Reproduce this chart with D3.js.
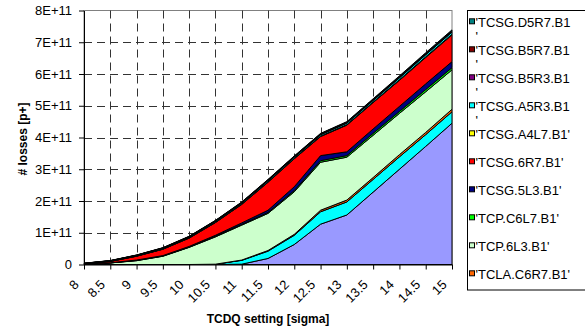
<!DOCTYPE html>
<html>
<head>
<meta charset="utf-8">
<script src="https://cdn.jsdelivr.net/npm/d3@7"></script>
<style>
  body { margin: 0; background: #fff; }
  svg { font-family: Arial, "Liberation Sans", sans-serif; display: block; }
</style>
</head>
<body>
<svg id="chart"></svg>
<script>
// x categories: TCDQ setting in sigma
const settings = [8, 8.5, 9, 9.5, 10, 10.5, 11, 11.5, 12, 12.5, 13, 13.5, 14, 14.5, 15]
// y tick labels (values in units of 1E+11)
const yTicks = [0, 1, 2, 3, 4, 5, 6, 7, 8]
const yTickLabels = ["0", "1E+11", "2E+11", "3E+11", "4E+11", "5E+11", "6E+11", "7E+11", "8E+11"]

// losses per collimator, units of 1E+11 p+ (stack order bottom -> top)
const tcdqLosses = [0, 0, 0, 0, 0, 0, 0.01, 0.19, 0.63, 1.27, 1.56, 2.28, 3.0, 3.72, 4.45]
const tclaB6R7 = [0, 0, 0, 0, 0, 0.01, 0.12, 0.23, 0.29, 0.39, 0.41, 0.40, 0.39, 0.37, 0.36]
const tclaC6R7 = [0, 0, 0, 0, 0, 0, 0.01, 0.02, 0.03, 0.05, 0.06, 0.06, 0.07, 0.07, 0.08]
const tcp6L3 = [0.01, 0.05, 0.12, 0.26, 0.54, 0.86, 1.10, 1.17, 1.34, 1.51, 1.35, 1.33, 1.30, 1.28, 1.24]
const tcpC6L7 = [0, 0, 0.01, 0.01, 0.01, 0.02, 0.02, 0.03, 0.04, 0.05, 0.05, 0.06, 0.06, 0.07, 0.07]
const tcsg5L3 = [0, 0.005, 0.01, 0.01, 0.02, 0.03, 0.05, 0.07, 0.12, 0.16, 0.12, 0.14, 0.16, 0.18, 0.19]
const tcsg6R7 = [0.01, 0.04, 0.12, 0.2, 0.26, 0.4, 0.58, 0.88, 0.88, 0.6, 0.84, 0.83, 0.82, 0.83, 0.84]
const tcsgA4L7 = [0.003, 0.004, 0.006, 0.007, 0.009, 0.01, 0.012, 0.013, 0.013, 0.015, 0.016, 0.018, 0.021, 0.022, 0.024]
const tcsgA5R3 = [0.008, 0.014, 0.016, 0.022, 0.024, 0.03, 0.032, 0.038, 0.038, 0.04, 0.046, 0.048, 0.056, 0.062, 0.064]
const tcsgB5R3 = [0.003, 0.004, 0.006, 0.007, 0.009, 0.01, 0.012, 0.013, 0.013, 0.015, 0.016, 0.018, 0.021, 0.022, 0.024]
const tcsgB5R7 = [0.003, 0.004, 0.006, 0.007, 0.009, 0.01, 0.012, 0.013, 0.013, 0.015, 0.016, 0.018, 0.021, 0.022, 0.024]
const tcsgD5R7 = [0.003, 0.004, 0.006, 0.007, 0.009, 0.01, 0.012, 0.013, 0.013, 0.015, 0.016, 0.018, 0.021, 0.022, 0.024]

const seriesNames = [
  "'TCDQ.4R6.B1'", "'TCLA.B6R7.B1'", "'TCLA.C6R7.B1'", "'TCP.6L3.B1'", "'TCP.C6L7.B1'", "'TCSG.5L3.B1'",
  "'TCSG.6R7.B1'", "'TCSG.A4L7.B1'", "'TCSG.A5R3.B1'", "'TCSG.B5R3.B1'", "'TCSG.B5R7.B1'", "'TCSG.D5R7.B1'"
]
const seriesValues = [
  tcdqLosses, tclaB6R7, tclaC6R7, tcp6L3, tcpC6L7, tcsg5L3,
  tcsg6R7, tcsgA4L7, tcsgA5R3, tcsgB5R3, tcsgB5R7, tcsgD5R7
]
const seriesColors = [
  "#9999FF", "#00FFFF", "#FF6600", "#CCFFCC", "#00FF00", "#000080",
  "#FF0000", "#FFFF00", "#00FFFF", "#800080", "#800000", "#008080"
]

const dims = { width: 585, height: 327, left: 84, right: 452, top: 10.5, bottom: 264.5 }

const svg = d3.select("#chart").attr("width", dims.width).attr("height", dims.height)

// building rows for d3.stack
const rows = settings.map((s, i) => {
  const row = { setting: s }
  seriesNames.forEach((name, k) => (row[name] = seriesValues[k][i]))
  return row
})
const stacked = d3.stack().keys(seriesNames)(rows)

const xScale = d3.scalePoint().domain(settings).range([dims.left, dims.right])
const yScale = d3.scaleLinear().domain([0, 8]).range([dims.bottom, dims.top])

// plot area border (grey)
svg.append("rect")
  .attr("x", dims.left).attr("y", dims.top)
  .attr("width", dims.right - dims.left).attr("height", dims.bottom - dims.top)
  .attr("fill", "#fff").attr("stroke", "#808080")

// dashed grid lines
const gridColor = "#333"
svg.append("g")
  .selectAll("line")
  .data(yTicks.filter((d) => d > 0 && d < 8))
  .join("line")
  .attr("x1", dims.left).attr("x2", dims.right)
  .attr("y1", (d) => Math.round(yScale(d)) + 0.5).attr("y2", (d) => Math.round(yScale(d)) + 0.5)
  .attr("stroke", gridColor).attr("stroke-dasharray", "8,5")
svg.append("g")
  .selectAll("line")
  .data(settings.slice(1, -1))
  .join("line")
  .attr("x1", (d) => Math.round(xScale(d)) + 0.5).attr("x2", (d) => Math.round(xScale(d)) + 0.5)
  .attr("y1", dims.top).attr("y2", dims.bottom)
  .attr("stroke", gridColor).attr("stroke-dasharray", "8,5")

// stacked areas, each with a black border
const area = d3.area()
  .x((d) => xScale(d.data.setting))
  .y0((d) => yScale(d[0]))
  .y1((d) => yScale(d[1]))
svg.append("g")
  .selectAll("path")
  .data(stacked)
  .join("path")
  .attr("d", area)
  .attr("fill", (d, i) => seriesColors[i])
  .attr("stroke", "#000")
  .attr("stroke-width", 1)
  .attr("stroke-linejoin", "round")

// y axis
const yAxis = d3.axisLeft(yScale)
  .tickValues(yTicks)
  .tickFormat((d, i) => yTickLabels[i])
  .tickSize(5).tickSizeOuter(0).tickPadding(7)
const yG = svg.append("g").attr("transform", `translate(${dims.left},0)`).call(yAxis)
yG.selectAll("text").attr("font-size", 13).attr("fill", "#000").attr("font-family", "Arial, 'Liberation Sans', sans-serif")
yG.selectAll("line, path").attr("stroke", "#000")

// x axis with rotated labels
const xAxis = d3.axisBottom(xScale).tickSize(5).tickSizeOuter(0)
const xG = svg.append("g").attr("transform", `translate(0,${dims.bottom})`).call(xAxis)
xG.selectAll("line, path").attr("stroke", "#000")
xG.selectAll("text")
  .attr("font-size", 13).attr("fill", "#000").attr("font-family", "Arial, 'Liberation Sans', sans-serif")
  .attr("x", 0).attr("y", 0).attr("dy", 0)
  .attr("text-anchor", "end")
  .attr("transform", "translate(-5,21) rotate(-45)")

// axis titles
svg.append("text")
  .attr("x", (dims.left + dims.right) / 2).attr("y", 323)
  .attr("text-anchor", "middle").attr("font-size", 12).attr("font-weight", "bold")
  .text("TCDQ setting [sigma]")
svg.append("text")
  .attr("transform", "translate(27,139) rotate(-90)")
  .attr("text-anchor", "middle").attr("font-size", 12).attr("font-weight", "bold")
  .text("# losses [p+]")

// legend (top of stack first); entries that do not fit in the box are left out
const legendBox = { x: 467.5, y: 10.5, w: 140, h: 279.5 }
const rowStep = 28
const firstRow = 22.3
svg.append("rect")
  .attr("x", legendBox.x).attr("y", legendBox.y).attr("width", legendBox.w).attr("height", legendBox.h)
  .attr("fill", "#fff").attr("stroke", "#000")
const legendItems = seriesNames
  .map((name, i) => ({ name, color: seriesColors[i] }))
  .reverse()
  .filter((d, i) => firstRow + i * rowStep + 8 < legendBox.y + legendBox.h)
const legendFont = 13
// text room: the long names lose their closing quote to a second line
const textRoom = 7.32 * legendFont
const entry = svg.append("g")
  .selectAll("g")
  .data(legendItems)
  .join("g")
  .attr("transform", (d, i) => `translate(0,${firstRow + i * rowStep})`)
entry.append("rect")
  .attr("x", 469.5).attr("y", -3.5).attr("width", 5).attr("height", 5)
  .attr("fill", (d) => d.color).attr("stroke", "#000")
entry.each(function (d) {
  const g = d3.select(this)
  const t = g.append("text").attr("x", 475.5).attr("y", 4.5).attr("font-size", legendFont).text(d.name)
  if (t.node().getComputedTextLength() > textRoom) {
    t.text(d.name.slice(0, -1))
    g.append("text").attr("x", 475.5).attr("y", 18.5).attr("font-size", legendFont).text(d.name.slice(-1))
  }
})
</script>
</body>
</html>
